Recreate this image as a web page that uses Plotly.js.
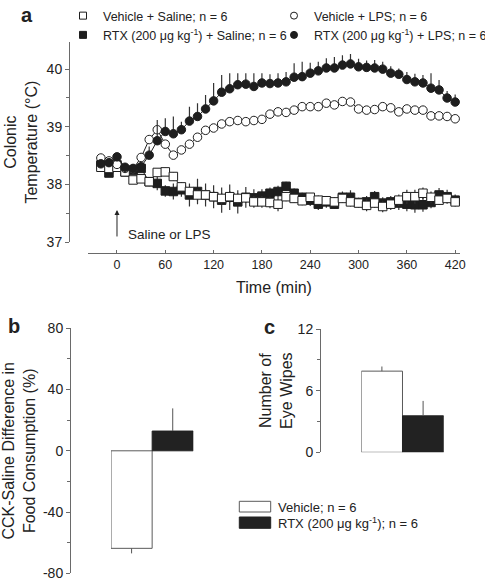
<!DOCTYPE html>
<html>
<head>
<meta charset="utf-8">
<script src="https://cdn.plot.ly/plotly-3.0.1.min.js"></script>
<style>html,body{margin:0;padding:0;background:#fff;}#chart{width:491px;height:581px;}</style>
</head>
<body>
<div id="chart"></div>
<script>
// ---------- Panel a: colonic temperature time course ----------
const timeMin = [-20,-10,0,10,20,30,40,50,60,70,80,90,100,110,120,130,140,150,160,170,180,190,200,210,220,230,240,250,260,270,280,290,300,310,320,330,340,350,360,370,380,390,400,410,420];

const vehSaline = [38.30,38.28,38.30,38.22,38.08,38.10,38.05,38.21,38.22,38.14,37.96,37.88,37.82,37.82,37.79,37.76,37.79,37.76,37.77,37.70,37.70,37.69,37.66,37.79,37.76,37.72,37.78,37.73,37.72,37.70,37.76,37.70,37.68,37.64,37.68,37.62,37.66,37.73,37.79,37.79,37.85,37.78,37.73,37.76,37.70];
const vehSalineErr = [0.05,0.05,0.05,0.06,0.06,0.06,0.06,0.06,0.07,0.08,0.08,0.08,0.10,0.10,0.10,0.10,0.10,0.09,0.09,0.10,0.10,0.10,0.12,0.08,0.08,0.08,0.07,0.08,0.07,0.08,0.08,0.08,0.08,0.10,0.08,0.10,0.10,0.10,0.12,0.12,0.10,0.10,0.08,0.08,0.08];

const rtxSaline = [38.34,38.20,38.34,38.22,38.25,38.28,38.05,38.02,37.89,37.88,37.91,37.82,37.88,37.82,37.79,37.73,37.78,37.70,37.78,37.77,37.80,37.85,37.88,37.97,37.85,37.78,37.73,37.66,37.70,37.66,37.78,37.78,37.69,37.70,37.79,37.68,37.70,37.68,37.66,37.65,37.65,37.69,37.82,37.79,37.73];
const rtxSalineErr = [0.05,0.06,0.05,0.06,0.06,0.05,0.08,0.12,0.10,0.14,0.12,0.20,0.22,0.20,0.20,0.22,0.22,0.20,0.18,0.15,0.12,0.10,0.10,0.08,0.08,0.08,0.10,0.10,0.10,0.08,0.10,0.12,0.08,0.10,0.10,0.10,0.10,0.12,0.12,0.14,0.12,0.10,0.12,0.12,0.10];

const vehLPS = [38.46,38.41,38.35,38.28,38.27,38.47,38.78,38.95,38.70,38.51,38.60,38.70,38.82,38.94,38.98,39.05,39.09,39.11,39.09,39.11,39.13,39.22,39.26,39.25,39.29,39.35,39.35,39.35,39.41,39.38,39.44,39.43,39.31,39.29,39.30,39.35,39.33,39.26,39.31,39.29,39.29,39.19,39.19,39.18,39.14];
const vehLPSErrDown = [0.05,0.05,0.06,0.06,0.06,0.08,0.20,0.36,0.20,0.12,0.17,0.19,0.22,0.17,0.14,0.18,0.20,0.16,0.17,0.19,0.18,0.33,0.20,0.22,0.22,0.23,0.26,0.23,0.26,0.26,0.23,0.18,0.22,0.23,0.21,0.20,0.18,0.27,0.16,0.23,0.20,0.28,0.25,0.22,0.22];

const rtxLPS = [38.36,38.38,38.48,38.30,38.28,38.31,38.51,38.76,38.92,38.88,38.95,39.10,39.18,39.31,39.45,39.60,39.66,39.73,39.74,39.70,39.76,39.75,39.76,39.78,39.86,39.87,39.93,39.97,40.02,40.02,40.07,40.09,40.04,40.03,40.02,40.00,39.93,39.91,39.82,39.78,39.76,39.67,39.64,39.50,39.43];
const rtxLPSErrUp = [0.04,0.04,0.05,0.05,0.05,0.06,0.15,0.36,0.23,0.30,0.14,0.25,0.23,0.24,0.31,0.30,0.27,0.20,0.19,0.23,0.17,0.16,0.17,0.17,0.24,0.26,0.18,0.16,0.17,0.19,0.17,0.17,0.14,0.12,0.14,0.13,0.12,0.10,0.13,0.14,0.14,0.26,0.17,0.12,0.13];

const seriesNames = [
  'Vehicle + Saline; n = 6',
  'Vehicle + LPS; n = 6',
  'RTX (200 μg kg<sup>-1</sup>) + Saline; n = 6',
  'RTX (200 μg kg<sup>-1</sup>) + LPS; n = 6'
];
const xTicks = [0,60,120,180,240,300,360,420];
const yTicksA = [37,38,39,40];

// ---------- Panel b: food consumption ----------
const groups = ['Vehicle; n = 6', 'RTX (200 μg kg<sup>-1</sup>); n = 6'];
const foodDiff = [-63.7, 12.9];
const foodErrUp = [0, 14.8];
const foodErrDown = [3.3, 0];
const yTicksB = [-80,-40,0,40,80];
const yTickTextB = ['-80','-40','0','40','80'];

// ---------- Panel c: eye wipes ----------
const eyeWipes = [7.9, 3.55];
const eyeErrUp = [0.45, 1.45];
const yTicksC = [0,6,12];

// ---------- helpers (pixel -> paper) ----------
const W = 491, H = 581;
const px = v => v / W;
const py = v => 1 - v / H;

const FONT = 'Liberation Sans, Arial, Helvetica, sans-serif';
const INK = '#1e1e1e';
const AX = '#6a6a6a';

function sc(y, name, symbol, fill, err) {
  return {
    x: timeMin, y: y, name: name, type: 'scatter', mode: 'lines+markers',
    xaxis: 'x', yaxis: 'y', showlegend: false, cliponaxis: false,
    line: {color: INK, width: 1},
    marker: {symbol: symbol, size: 8.5, color: fill, line: {color: INK, width: 1}},
    error_y: Object.assign({type: 'data', color: '#333', thickness: 1.2, width: 0}, err)
  };
}

const traces = [
  sc(rtxSaline, seriesNames[2], 'square', INK, {symmetric: true, array: rtxSalineErr}),
  sc(vehSaline, seriesNames[0], 'square', '#ffffff', {symmetric: true, array: vehSalineErr}),
  sc(vehLPS, seriesNames[1], 'circle', '#ffffff', {symmetric: false, arrayminus: vehLPSErrDown}),
  sc(rtxLPS, seriesNames[3], 'circle', INK, {symmetric: false, array: rtxLPSErrUp}),
];

// legend-only entries (markers only, like the reference legend)
const legendSym = [['square','#ffffff'],['circle','#ffffff'],['square',INK],['circle',INK]];
seriesNames.forEach((n, i) => {
  traces.push({
    x: [null], y: [null], type: 'scatter', mode: 'markers', name: n,
    xaxis: 'x', yaxis: 'y', showlegend: true, legend: 'legend',
    marker: {symbol: legendSym[i][0], size: 7, color: legendSym[i][1], line: {color: INK, width: 1}}
  });
});

// bars
traces.push({
  type: 'bar', x: [0, 1], y: foodDiff, xaxis: 'x2', yaxis: 'y2', showlegend: false,
  text: groups, hoverinfo: 'text+y', textposition: 'none',
  marker: {color: ['#ffffff', '#222222'], line: {color: ['#5a5a5a', '#222222'], width: 1}},
  error_y: {type: 'data', symmetric: false, array: foodErrUp, arrayminus: foodErrDown, color: '#555', thickness: 1, width: 0}
});
traces.push({
  type: 'bar', x: [0, 1], y: eyeWipes, xaxis: 'x3', yaxis: 'y3', showlegend: false,
  text: groups, hoverinfo: 'text+y', textposition: 'none',
  marker: {color: ['#ffffff', '#222222'], line: {color: ['#5a5a5a', '#222222'], width: 1}},
  error_y: {type: 'data', symmetric: false, array: eyeErrUp, color: '#555', thickness: 1, width: 0}
});

const tickFont = {family: FONT, size: 14, color: '#222'};
const titleFont = {family: FONT, size: 16, color: '#222'};

const layout = {
  width: W, height: H,
  margin: {l: 0, r: 0, t: 0, b: 0, pad: 0, autoexpand: false},
  paper_bgcolor: '#ffffff', plot_bgcolor: 'rgba(0,0,0,0)',
  font: {family: FONT, color: '#222'},
  bargap: 0, barmode: 'group',
  showlegend: true,
  legend: {
    orientation: 'h', x: px(63), y: py(1), xanchor: 'left', yanchor: 'top',
    entrywidth: 166, entrywidthmode: 'pixels', itemwidth: 30,
    font: {family: FONT, size: 12.5, color: '#222'}, bgcolor: 'rgba(0,0,0,0)',
    tracegroupgap: 0, traceorder: 'normal'
  },
  xaxis: {
    domain: [px(88), px(460)], range: [-36, 426], anchor: 'free', position: py(253),
    showline: true, linecolor: AX, linewidth: 1, zeroline: false, showgrid: false,
    ticks: 'inside', ticklen: 3, tickcolor: AX, tickvals: xTicks,
    tickfont: {family: FONT, size: 12.5, color: '#222'}, ticklabeloverflow: 'allow',
    title: {text: 'Time (min)', font: titleFont, standoff: 10}
  },
  yaxis: {
    domain: [py(242.3), py(42)], range: [37, 40.47], anchor: 'free', position: px(69),
    showline: true, linecolor: AX, linewidth: 1, zeroline: false, showgrid: false,
    ticks: 'outside', ticklen: 4, tickcolor: AX, tickvals: yTicksA, ticklabeloverflow: 'allow',
    minor: {tickvals: [37.5, 38.5, 39.5], ticks: 'outside', ticklen: 3, tickcolor: AX, showgrid: false},
    tickfont: tickFont,
    title: {text: 'Colonic<br>Temperature (°C)', font: titleFont, standoff: 4}
  },
  xaxis2: {domain: [px(111), px(193.3)], range: [-0.5, 1.5], anchor: 'y2', visible: false, fixedrange: true},
  yaxis2: {
    domain: [py(573.3), py(328.3)], range: [-80, 80], anchor: 'free', position: px(70),
    showline: true, linecolor: AX, linewidth: 1, zeroline: false, showgrid: false,
    ticks: 'outside', ticklen: 4, tickcolor: AX, tickvals: yTicksB, ticktext: yTickTextB, ticklabeloverflow: 'allow',
    minor: {tickvals: [-60, -20, 20, 60], ticks: 'outside', ticklen: 3, tickcolor: AX, showgrid: false},
    tickfont: tickFont,
    title: {text: 'CCK-Saline Difference in<br>Food Consumption (%)', font: titleFont, standoff: 4}
  },
  xaxis3: {domain: [px(361.3), px(443.7)], range: [-0.5, 1.5], anchor: 'y3', visible: false, fixedrange: true},
  yaxis3: {
    domain: [py(452.3), py(329)], range: [0, 12], anchor: 'free', position: px(320),
    showline: true, linecolor: AX, linewidth: 1, zeroline: false, showgrid: false,
    ticks: 'outside', ticklen: 4, tickcolor: AX, tickvals: yTicksC, ticklabeloverflow: 'allow',
    minor: {tickvals: [3, 9], ticks: 'outside', ticklen: 3, tickcolor: AX, showgrid: false},
    tickfont: tickFont,
    title: {text: 'Number of<br>Eye Wipes', font: titleFont, standoff: 0}
  },
  shapes: [
    {type: 'rect', xref: 'paper', yref: 'paper', x0: px(239.3), x1: px(270.7), y0: py(512), y1: py(501.3),
     fillcolor: '#ffffff', line: {color: '#5a5a5a', width: 1}},
    {type: 'rect', xref: 'paper', yref: 'paper', x0: px(239.3), x1: px(270.7), y0: py(528.3), y1: py(517),
     fillcolor: '#222222', line: {color: '#222222', width: 1}}
  ],
  annotations: [
    {xref: 'paper', yref: 'paper', x: px(19), y: py(15), xanchor: 'left', yanchor: 'middle', showarrow: false,
     text: '<b>a</b>', font: {family: FONT, size: 20, color: '#222'}},
    {xref: 'paper', yref: 'paper', x: px(6), y: py(326), xanchor: 'left', yanchor: 'middle', showarrow: false,
     text: '<b>b</b>', font: {family: FONT, size: 20, color: '#222'}},
    {xref: 'paper', yref: 'paper', x: px(262), y: py(327), xanchor: 'left', yanchor: 'middle', showarrow: false,
     text: '<b>c</b>', font: {family: FONT, size: 20, color: '#222'}},
    {xref: 'x', yref: 'y', x: 0, y: 37.56, ax: 0, ay: 28, text: '', showarrow: true,
     arrowhead: 2, arrowsize: 1, arrowwidth: 1, arrowcolor: '#222'},
    {xref: 'x', yref: 'y', x: 11, y: 37.13, xanchor: 'left', yanchor: 'middle', showarrow: false,
     text: 'Saline or LPS', font: {family: FONT, size: 13.5, color: '#222'}},
    {xref: 'paper', yref: 'paper', x: px(276), y: py(507), xanchor: 'left', yanchor: 'middle', showarrow: false,
     text: groups[0], font: {family: FONT, size: 13, color: '#222'}},
    {xref: 'paper', yref: 'paper', x: px(276), y: py(523), xanchor: 'left', yanchor: 'middle', showarrow: false,
     text: groups[1], font: {family: FONT, size: 13, color: '#222'}}
  ]
};

Plotly.newPlot('chart', traces, layout, {displayModeBar: false, staticPlot: true});
</script>
</body>
</html>
